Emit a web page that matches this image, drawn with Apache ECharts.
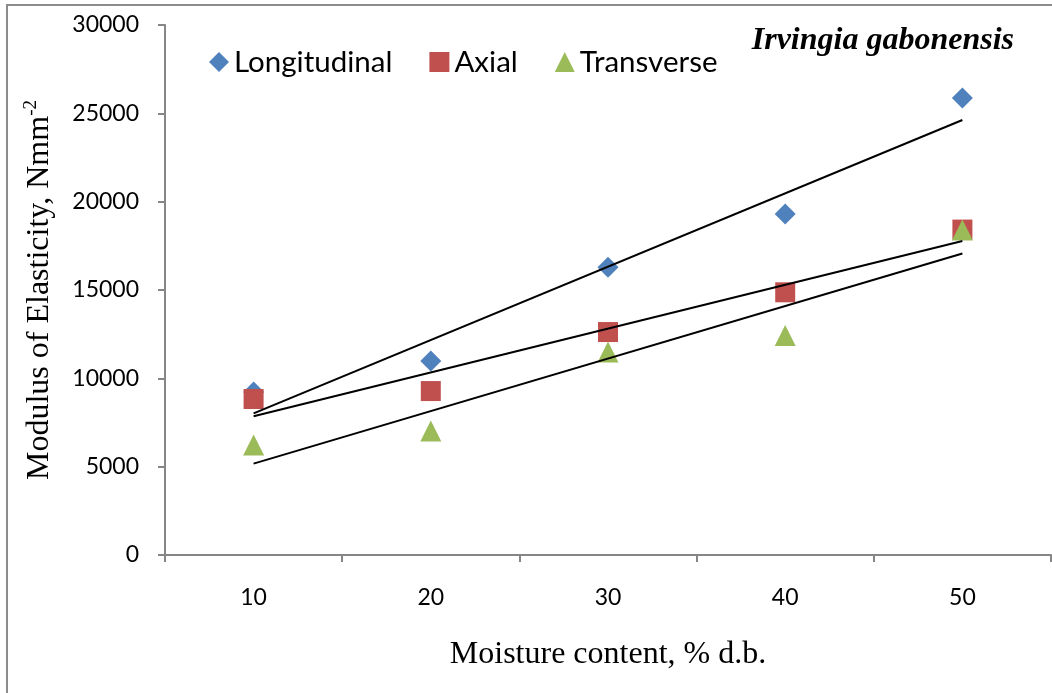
<!DOCTYPE html>
<html>
<head>
<meta charset="utf-8">
<script src="https://cdn.jsdelivr.net/npm/echarts@6/dist/echarts.min.js"></script>
<style>html,body{margin:0;padding:0;background:#fff}#c{width:1052px;height:693px}</style>
</head>
<body>
<div id="c"></div>
<script>
const categories = ['10', '20', '30', '40', '50'];
const longitudinal = [9230, 10980, 16290, 19300, 25870];
const axial = [8830, 9280, 12620, 14870, 18420];
const transverse = [6230, 7020, 11490, 12430, 18400];
// trend line end values (at 10 and 50)
const longTrend = [8020, 24620];
const axialTrend = [7850, 17770];
const transTrend = [5170, 17070];
const yTicks = { min: 0, max: 30000, interval: 5000 };

function trendData(t) {
  const d = categories.map(() => null);
  d[0] = t[0];
  d[d.length - 1] = t[1];
  return d;
}

const sans = 'Lato';
const serif = '"Liberation Serif", "Times New Roman", serif';
const axisGray = '#868686';

const chart = echarts.init(document.getElementById('c'));
chart.setOption({
  animation: false,
  backgroundColor: '#fff',
  graphic: [{
    type: 'rect', shape: { x: 7, y: 5, width: 1200, height: 900 },
    style: { fill: 'none', stroke: '#8c8c8c', lineWidth: 2 }, silent: true, z: -10
  }],
  title: {
    text: 'Irvingia gabonensis', right: 33, top: 20,
    textStyle: { fontFamily: serif, fontStyle: 'italic', fontWeight: 'bold', fontSize: 32, color: '#000' }
  },
  legend: {
    left: 204, top: 42, itemWidth: 20, itemHeight: 20, itemGap: 37,
    textStyle: { fontFamily: sans, fontSize: 29.5, color: '#000', padding: [0, 0, 0, 0] },
    data: [
      { name: 'Longitudinal', icon: 'diamond' },
      { name: 'Axial', icon: 'rect' },
      { name: 'Transverse', icon: 'triangle' }
    ]
  },
  grid: { left: 165, right: 1, top: 25, bottom: 138, containLabel: false, outerBoundsMode: 'none' },
  xAxis: {
    type: 'category', data: categories, boundaryGap: true,
    axisLine: { lineStyle: { color: axisGray, width: 2 } },
    axisTick: { show: true, length: 7, lineStyle: { color: axisGray, width: 2 } },
    axisLabel: { margin: 31, fontFamily: sans, fontSize: 23, color: '#000' },
    name: 'Moisture content, % d.b.', nameLocation: 'middle', nameGap: 84,
    nameTextStyle: { fontFamily: serif, fontSize: 32, color: '#000' }
  },
  yAxis: {
    type: 'value', min: yTicks.min, max: yTicks.max, interval: yTicks.interval,
    splitLine: { show: false },
    axisLine: { show: true, lineStyle: { color: axisGray, width: 2 } },
    axisTick: { show: true, length: 7, lineStyle: { color: axisGray, width: 2 } },
    axisLabel: { margin: 26, fontFamily: sans, fontSize: 23, color: '#000', formatter: v => String(v) },
    name: '{a|Modulus of Elasticity, Nmm}{b|-2}', nameLocation: 'middle', nameGap: 107,
    nameTextStyle: {
      color: '#000',
      rich: {
        a: { fontFamily: serif, fontSize: 32, color: '#000', lineHeight: 36 },
        b: { fontFamily: serif, fontSize: 19, color: '#000', verticalAlign: 'top', lineHeight: 36, padding: [0, 0, 13, 0] }
      }
    }
  },
  series: [
    { name: 'Longitudinal', type: 'scatter', data: longitudinal, symbol: 'diamond', symbolSize: 21, itemStyle: { color: '#4F81BD', opacity: 1 }, z: 2 },
    { name: 'Axial', type: 'scatter', data: axial, symbol: 'rect', symbolSize: 20, itemStyle: { color: '#C0504D', opacity: 1 }, z: 2 },
    { name: 'Transverse', type: 'scatter', data: transverse, symbol: 'triangle', symbolSize: 21, itemStyle: { color: '#9BBB59', opacity: 1 }, z: 2 },
    { name: 'Longitudinal trend', type: 'line', data: trendData(longTrend), connectNulls: true, symbol: 'none', lineStyle: { color: '#000', width: 2 }, itemStyle: { color: '#000' }, z: 3 },
    { name: 'Axial trend', type: 'line', data: trendData(axialTrend), connectNulls: true, symbol: 'none', lineStyle: { color: '#000', width: 2 }, itemStyle: { color: '#000' }, z: 3 },
    { name: 'Transverse trend', type: 'line', data: trendData(transTrend), connectNulls: true, symbol: 'none', lineStyle: { color: '#000', width: 2 }, itemStyle: { color: '#000' }, z: 3 }
  ]
});
</script>
</body>
</html>
